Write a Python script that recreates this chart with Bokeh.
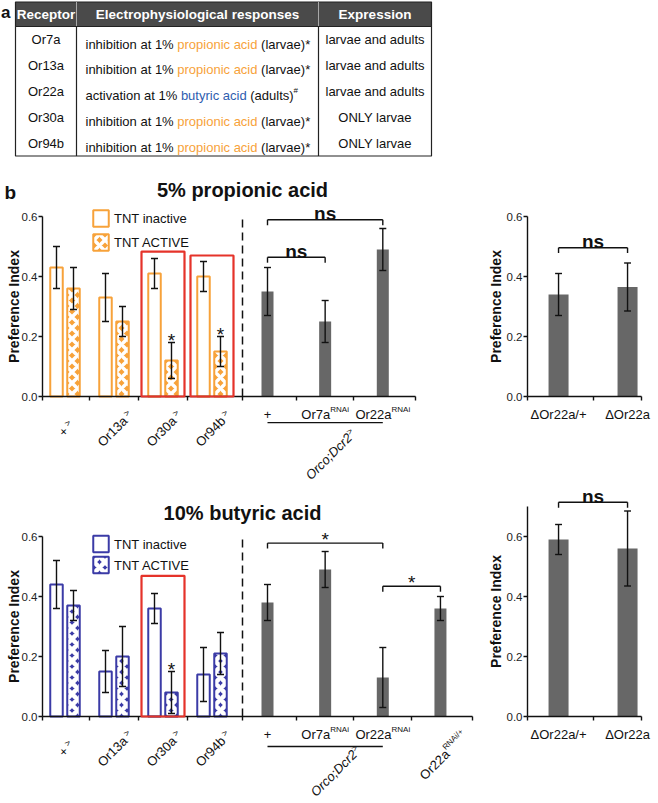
import math
from bokeh.plotting import figure
from bokeh.layouts import column, row
from bokeh.models import Range1d, LinearAxis, FixedTicker, PrintfTickFormatter, CustomJSTickFormatter
from bokeh.core.properties import value
from bokeh.embed import file_html
from bokeh.resources import INLINE

FONT = "Liberation Sans"
ORANGE = "#F7A23A"
BLUE = "#3B3BA6"
ODOR_BLUE = "#2E5DAF"
GRAY = "#676767"
RED = "#E5332A"
INK = "#111111"

# ---------------- panel a : table ----------------
tbl_headers = ["Receptor", "Electrophysiological responses", "Expression"]
tbl_receptor = ["Or7a", "Or13a", "Or22a", "Or30a", "Or94b"]
tbl_effect = ["inhibition at 1% ", "inhibition at 1% ", "activation at 1% ",
              "inhibition at 1% ", "inhibition at 1% "]
tbl_odor = ["propionic acid", "propionic acid", "butyric acid", "propionic acid", "propionic acid"]
tbl_stage = [" (larvae)*", " (larvae)*", " (adults)", " (larvae)*", " (larvae)*"]
tbl_note = ["", "", "#", "", ""]
tbl_expression = ["larvae and adults", "larvae and adults", "larvae and adults",
                  "ONLY larvae", "ONLY larvae"]

# ---------------- panel b : data ----------------
tnt_drivers = ["+", "Or13a", "Or30a", "Or94b"]
tnt_legend = ["TNT inactive", "TNT ACTIVE"]

# 5% propionic acid
pa_inactive = [0.43, 0.33, 0.41, 0.40]
pa_inactive_err = [0.07, 0.08, 0.05, 0.05]
pa_active = [0.36, 0.25, 0.12, 0.15]
pa_active_err = [0.07, 0.05, 0.06, 0.05]
pa_active_sig = ["", "", "*", "*"]
pa_box_top = [None, None, 0.483, 0.47]

pa_rnai_base = ["+", "Or7a", "Or22a"]
pa_rnai_sup = ["", "RNAi", "RNAi"]
pa_rnai = [0.35, 0.25, 0.49]
pa_rnai_err = [0.08, 0.07, 0.07]
pa_rnai_brackets = [(0, 1, "ns", 0.464), (0, 2, "ns", 0.589)]

mut_labels = ["\u0394Or22a/+", "\u0394Or22a"]
pa_mut = [0.34, 0.365]
pa_mut_err = [0.07, 0.08]
pa_mut_brackets = [(0, 1, "ns", 0.496)]

# 10% butyric acid
ba_inactive = [0.44, 0.15, 0.36, 0.14]
ba_inactive_err = [0.08, 0.07, 0.05, 0.09]
ba_active = [0.37, 0.20, 0.08, 0.21]
ba_active_err = [0.05, 0.10, 0.07, 0.07]
ba_active_sig = ["", "", "*", ""]
ba_box_top = [None, None, 0.469, None]

ba_rnai_base = ["+", "Or7a", "Or22a", "Or22a"]
ba_rnai_sup = ["", "RNAi", "RNAi", "RNAi/+"]
ba_rnai = [0.38, 0.49, 0.13, 0.36]
ba_rnai_err = [0.06, 0.06, 0.10, 0.04]
ba_rnai_brackets = [(0, 2, "*", 0.578), (2, 3, "*", 0.434)]

ba_mut = [0.59, 0.56]
ba_mut_err = [0.05, 0.125]
ba_mut_brackets = [(0, 1, "ns", 0.714)]

y_ticks = [0.0, 0.2, 0.4, 0.6]

# ---------------- helpers ----------------
CW = {' ': .278, '+': .584, '>': .584, '/': .278, ';': .278, '%': .889, '(': .333, ')': .333,
      '*': .389, '#': .556, '.': .278, '\u0394': .668,
      'a': .556, 'b': .556, 'c': .5, 'd': .556, 'e': .556, 'f': .278, 'g': .556, 'h': .556,
      'i': .222, 'j': .222, 'k': .5, 'l': .222, 'm': .833, 'n': .556, 'o': .556, 'p': .556,
      'q': .556, 'r': .333, 's': .5, 't': .278, 'u': .556, 'v': .5, 'w': .722, 'x': .5,
      'y': .5, 'z': .5, 'A': .667, 'C': .722, 'D': .722, 'E': .667, 'I': .278, 'L': .556,
      'N': .722, 'O': .778, 'P': .667, 'R': .722, 'T': .611, 'V': .667, 'Y': .667}


def tw(s, size):
    return sum(CW.get(c, 0.556) for c in s) * size


def rich(p, x, y, parts, angle=0.0, align="center", style="normal", vcenter=True):
    """parts: (text, size_px, raise_px, color); laid out along the (rotated) baseline"""
    main = max(pt[1] for pt in parts)
    shift = -0.35 * main if vcenter else 0.0
    total = sum(tw(pt[0], pt[1]) for pt in parts)
    pos = {"left": 0.0, "center": -total / 2.0, "right": -total}[align]
    ux, uy = math.cos(angle), -math.sin(angle)
    nx, ny = -math.sin(angle), -math.cos(angle)
    for t, sz, r, col in parts:
        lead = len(t) - len(t.lstrip(" "))
        pos += tw(" " * lead, sz)
        t = t.lstrip(" ")
        if t:
            rr = r + shift
            p.text(x=[x], y=[y], text=[t], angle=angle,
                   x_offset=ux * pos + nx * rr, y_offset=uy * pos + ny * rr,
                   text_align="left", text_baseline="alphabetic",
                   text_font=value(FONT), text_font_size=f"{sz}px",
                   text_font_style=style, text_color=col)
        pos += tw(t, sz)


def make_fig(w, h, xr, yr):
    p = figure(width=w, height=h, x_range=Range1d(*xr), y_range=Range1d(*yr),
               x_axis_type=None, y_axis_type=None, toolbar_location=None,
               output_backend="svg", min_border=0)
    p.outline_line_color = None
    p.background_fill_color = "white"
    p.border_fill_color = "white"
    return p


def style_axis(ax):
    ax.axis_line_width = 1.4
    ax.axis_line_color = INK
    ax.major_tick_line_width = 1.4
    ax.major_tick_line_color = INK
    ax.major_tick_in = 0
    ax.major_tick_out = 4
    ax.minor_tick_line_color = None
    ax.major_label_standoff = 1
    ax.major_label_text_font = FONT
    ax.major_label_text_font_size = "11.5px"
    ax.major_label_text_color = "#222222"


def add_yaxis(p, bounds):
    ax = LinearAxis(fixed_location=0, bounds=bounds, ticker=FixedTicker(ticks=y_ticks),
                    formatter=PrintfTickFormatter(format="%.1f"))
    style_axis(ax)
    p.add_layout(ax, "left")


def add_xaxis(p, bounds, ticks):
    ax = LinearAxis(fixed_location=0, bounds=bounds, ticker=FixedTicker(ticks=ticks),
                    formatter=CustomJSTickFormatter(code="return ''"))
    style_axis(ax)
    p.add_layout(ax, "below")


def errbars(p, xs, vals, errs, cap):
    lo = [v - e for v, e in zip(vals, errs)]
    hi = [v + e for v, e in zip(vals, errs)]
    p.segment(x0=xs, y0=lo, x1=xs, y1=hi, line_color=INK, line_width=1.4)
    p.segment(x0=[x - cap for x in xs] * 2, y0=lo + hi, x1=[x + cap for x in xs] * 2,
              y1=lo + hi, line_color=INK, line_width=1.4)


def star(p, x, y, dy):
    p.text(x=[x], y=[y], text=["*"], text_align="center", text_baseline="alphabetic",
           y_offset=dy, text_font=value(FONT), text_font_size="19px", text_color=INK)


def brackets(p, xs, specs, tip):
    for i, j, txt, yb in specs:
        x0, x1 = xs[i], xs[j]
        p.segment(x0=[x0, x0, x1], y0=[yb, yb, yb], x1=[x1, x0, x1],
                  y1=[yb, yb - tip, yb - tip], line_color=INK, line_width=1.4)
        xm = (x0 + x1) / 2.0
        if txt == "ns":
            p.text(x=[xm], y=[yb], text=[txt], text_align="center", text_baseline="alphabetic",
                   y_offset=-6, text_font=value(FONT), text_font_size="19px",
                   text_font_style="bold", text_color=INK)
        else:
            star(p, xm, yb, -4)


# geometry: px per unit
PXX, PXY, PXR = 50.0, 300.0, 69.0
G0, GS = 0.45, 0.98          # driver group centres
M0, MS = 4.5, 1.153          # RNAi bar centres
SPLIT = 4.0                  # dashed separator


def main_panel(p, title, title_y, color, act_fill, act_hatch, hatch_w, inact, inact_err, act,
               act_err, act_sig, box_top, legend_y, rv, re_, rbase, rsup, brk, under_y,
               orco_xy, show_b):
    n = len(tnt_drivers)
    gc = [G0 + GS * i for i in range(n)]
    mc = [M0 + MS * j for j in range(len(rv))]
    off, bw = 0.17, 0.25

    xi = [g - off for g in gc]
    xa = [g + off for g in gc]
    p.vbar(x=xi, top=inact, bottom=0, width=bw, fill_color="white",
           line_color=color, line_width=2)
    p.vbar(x=xa, top=act, bottom=0, width=bw, fill_color=act_fill,
           hatch_pattern="diagonal_cross", hatch_color=act_hatch, hatch_weight=hatch_w,
           hatch_scale=11, line_color=color, line_width=2)
    errbars(p, xi, inact, inact_err, 0.07)
    errbars(p, xa, act, act_err, 0.07)
    for x, v, e, s in zip(xa, act, act_err, act_sig):
        if s:
            star(p, x, v + e, -2)
    for g, bt in zip(gc, box_top):
        if bt is not None:
            p.quad(left=[g - 0.43], right=[g + 0.43], bottom=[0], top=[bt], fill_color=None,
                   line_color=RED, line_width=2.2, level="overlay")

    # legend
    lx = 1.17
    p.rect(x=[lx], y=[legend_y[0]], width=0.31, height=0.055, fill_color="white",
           line_color=color, line_width=2)
    p.rect(x=[lx], y=[legend_y[1]], width=0.31, height=0.055, fill_color=act_fill,
           hatch_pattern="diagonal_cross", hatch_color=act_hatch, hatch_weight=hatch_w,
           hatch_scale=11, line_color=color, line_width=2)
    p.text(x=[lx + 0.26] * 2, y=legend_y, text=tnt_legend, text_align="left",
           text_baseline="middle", text_font=value(FONT), text_font_size="13px",
           text_color=INK)

    # separator
    p.segment(x0=[SPLIT], y0=[0], x1=[SPLIT], y1=[0.6], line_color=INK,
              line_width=1.5, line_dash="8 5")

    # RNAi bars
    p.vbar(x=mc, top=rv, bottom=0, width=0.24, fill_color=GRAY, line_color=None)
    errbars(p, mc, rv, re_, 0.07)
    brackets(p, mc, brk, 0.018)

    # axes
    add_yaxis(p, (0, 0.6))
    end = mc[-1] + 0.65
    ticks = [0.0] + [(gc[i] + gc[i + 1]) / 2 for i in range(n - 1)] + [SPLIT] + \
            [(mc[j] + mc[j + 1]) / 2 for j in range(len(mc) - 1)] + [end]
    add_xaxis(p, (0, end), ticks)

    # x labels: drivers (rotated)
    for g, d in zip(gc, tnt_drivers):
        rich(p, g - 0.04, -0.097, [(d, 13, 0, INK), (" ", 9, 0, INK), (">", 9, 3, INK)],
             angle=math.pi / 4)
    # x labels: RNAi lines
    for j, (b, s) in enumerate(zip(rbase, rsup)):
        parts = [(b, 13, 0, INK)]
        if s:
            parts.append((s, 8, 5, INK))
        if j < 3:
            rich(p, mc[j], -0.045, parts)
        else:
            rich(p, mc[j], -0.12, parts, angle=math.pi / 4)
    # Orco;Dcr2> group
    p.segment(x0=[mc[0]], y0=[under_y], x1=[mc[2]], y1=[under_y], line_color=INK,
              line_width=1.4)
    rich(p, orco_xy[0], orco_xy[1], [("Orco;Dcr2", 13, 0, INK), (">", 9, 3, INK)],
         angle=math.pi / 4, style="italic")

    # y label
    p.text(x=[-0.57], y=[0.3], text=["Preference Index"], angle=math.pi / 2,
           text_align="center", text_baseline="middle", text_font=value(FONT),
           text_font_size="14px", text_font_style="bold", text_color=INK)
    # title
    p.text(x=[SPLIT], y=[title_y], text=[title], text_align="center", text_baseline="middle",
           text_font=value(FONT), text_font_size="20px", text_font_style="bold",
           text_color=INK)
    if show_b:
        p.text(x=[-0.76], y=[0.68], text=["b"], text_align="left", text_baseline="middle",
               text_font=value(FONT), text_font_size="19px", text_font_style="bold",
               text_color=INK)


def mut_panel(p, vals, errs, brk, ybounds, ylabel_y):
    rc = [0.45 + 1.0 * i for i in range(len(vals))]
    p.vbar(x=rc, top=vals, bottom=0, width=0.29, fill_color=GRAY, line_color=None)
    errbars(p, rc, vals, errs, 0.05)
    brackets(p, rc, brk, 0.018)
    add_yaxis(p, ybounds)
    end = rc[-1] + 0.2
    add_xaxis(p, (0, end), [0.0, (rc[0] + rc[1]) / 2, end])
    for x, lab in zip(rc, mut_labels):
        rich(p, x, -0.045, [(lab, 13, 0, INK)])
    p.text(x=[-0.455], y=[ylabel_y], text=["Preference Index"], angle=math.pi / 2,
           text_align="center", text_baseline="middle", text_font=value(FONT),
           text_font_size="14px", text_font_style="bold", text_color=INK)


# ---------------- panel a figure ----------------
pa = make_fig(658, 168, (0, 658), (168, 0))
col_edges = [15, 76, 318, 431]
head_top, head_bot, body_bot = 1.5, 26, 155.5
row_h = (body_bot - head_bot) / len(tbl_receptor)
pa.quad(left=[col_edges[0]], right=[col_edges[-1]], top=[head_top], bottom=[head_bot],
        fill_color="#4a4a4a", line_color="#222222", line_width=1.2)
pa.segment(x0=col_edges[1:3], y0=[head_top] * 2, x1=col_edges[1:3], y1=[head_bot] * 2,
           line_color="#a8a8a8", line_width=1)
pa.quad(left=[col_edges[0]], right=[col_edges[-1]], top=[head_bot], bottom=[body_bot],
        fill_color="white", line_color="#222222", line_width=1.2)
pa.segment(x0=col_edges[1:3], y0=[head_bot] * 2, x1=col_edges[1:3], y1=[body_bot] * 2,
           line_color="#222222", line_width=1.2)
pa.text(x=[(col_edges[k] + col_edges[k + 1]) / 2 for k in range(3)],
        y=[(head_top + head_bot) / 2] * 3, text=tbl_headers, text_align="center",
        text_baseline="middle", text_font=value(FONT), text_font_size="13.5px",
        text_font_style="bold", text_color="white")
for i in range(len(tbl_receptor)):
    yc = head_bot + (i + 0.5) * row_h
    pa.text(x=[(col_edges[0] + col_edges[1]) / 2], y=[yc], text=[tbl_receptor[i]],
            text_align="center", text_baseline="middle", text_font=value(FONT),
            text_font_size="13px", text_color=INK)
    pa.text(x=[(col_edges[2] + col_edges[3]) / 2], y=[yc], text=[tbl_expression[i]],
            text_align="center", text_baseline="middle", text_font=value(FONT),
            text_font_size="13px", text_color=INK)
    odor_col = ODOR_BLUE if "butyric" in tbl_odor[i] else ORANGE
    parts = [(tbl_effect[i], 13, 0, INK), (tbl_odor[i], 13, 0, odor_col),
             (tbl_stage[i], 13, 0, INK)]
    if tbl_note[i]:
        parts.append((tbl_note[i], 8, 5, INK))
    rich(pa, col_edges[1] + 9, yc, parts, align="left")
pa.text(x=[0.5], y=[12], text=["a"], text_align="left", text_baseline="middle",
        text_font=value(FONT), text_font_size="17px", text_font_style="bold",
        text_color=INK)


# ---------------- panel b figures ----------------
def xr_main(left_img, w, origin):
    s = -(origin - left_img) / PXX
    return (s, s + w / PXX)


def xr_mut(left_img, w, origin):
    s = -(origin - left_img) / PXR
    return (s, s + w / PXR)


def yr_of(top_img, h, origin):
    e = (origin - top_img) / PXY
    return (e - h / PXY, e)


pB = make_fig(480, 322, xr_main(0, 480, 42), yr_of(168, 322, 396))
main_panel(pB, "5% propionic acid", 0.687, ORANGE, ORANGE, "white", 3.5,
           pa_inactive, pa_inactive_err, pa_active, pa_active_err, pa_active_sig, pa_box_top,
           [0.593, 0.513], pa_rnai, pa_rnai_err, pa_rnai_base, pa_rnai_sup, pa_rnai_brackets,
           -0.087, (5.7, -0.183), True)

pD = make_fig(480, 313, xr_main(0, 480, 42), yr_of(490, 313, 716))
main_panel(pD, "10% butyric acid", 0.677, BLUE, BLUE, "white", 4.5,
           ba_inactive, ba_inactive_err, ba_active, ba_active_err, ba_active_sig, ba_box_top,
           [0.575, 0.505], ba_rnai, ba_rnai_err, ba_rnai_base, ba_rnai_sup, ba_rnai_brackets,
           -0.1, (5.8, -0.172), False)

pC = make_fig(178, 310, xr_mut(480, 178, 527), yr_of(168, 310, 396))
mut_panel(pC, pa_mut, pa_mut_err, pa_mut_brackets, (0, 0.6), 0.3)

pE = make_fig(178, 325, xr_mut(480, 178, 527), yr_of(478, 325, 716))
mut_panel(pE, ba_mut, ba_mut_err, ba_mut_brackets, (0, 0.7), 0.35)

layout = column(pa, row(column(pB, pD), column(pC, pE)))
open("out.html", "w").write(file_html(layout, INLINE))
